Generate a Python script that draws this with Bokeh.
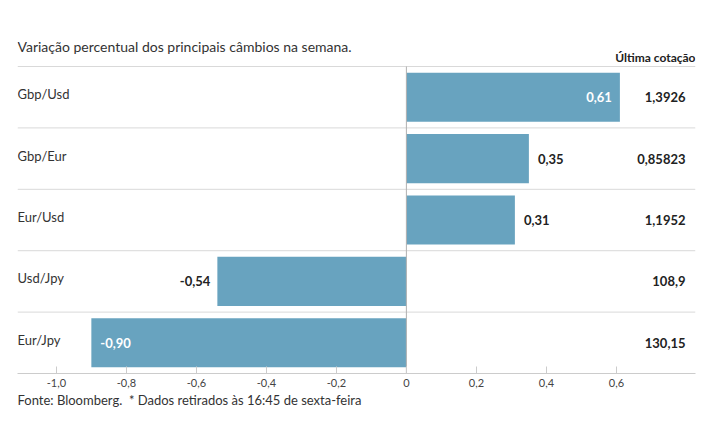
from bokeh.plotting import figure
from bokeh.models import FixedTicker, Title, ColumnDataSource, Range1d
from bokeh.core.properties import value
from bokeh.embed import file_html
from bokeh.resources import INLINE

pairs = ["Gbp/Usd", "Gbp/Eur", "Eur/Usd", "Usd/Jpy", "Eur/Jpy"]
changes = [0.61, 0.35, 0.31, -0.54, -0.90]
change_labels = ["0,61", "0,35", "0,31", "-0,54", "-0,90"]
last_quote = ["1,3926", "0,85823", "1,1952", "108,9", "130,15"]
tick_values = [-1.0, -0.8, -0.6, -0.4, -0.2, 0, 0.2, 0.4, 0.6]
tick_labels = ["-1,0", "-0,8", "-0,6", "-0,4", "-0,2", "0", "0,2", "0,4", "0,6"]

FONT = "Lato"
BAR = "#68a3bf"
X0, X1 = -1.111, 0.826
n = len(pairs)
rows = [n - 1 - i for i in range(n)]
Y0, Y1 = -0.5, n - 0.5 + 0.489

p = figure(width=707, height=437, output_backend="svg", toolbar_location=None,
           x_range=Range1d(X0, X1), y_range=Range1d(Y0, Y1),
           min_border_left=17, min_border_right=12, min_border_top=36, min_border_bottom=64)
p.outline_line_color = None
p.grid.visible = False
p.yaxis.visible = False
p.background_fill_color = "white"
p.border_fill_color = "white"

# x axis
ax = p.xaxis[0]
ax.ticker = FixedTicker(ticks=tick_values)
ax.major_label_overrides = {t: l for t, l in zip(tick_values, tick_labels)}
ax.axis_line_color = "#cccccc"
ax.major_tick_line_color = "#cccccc"
ax.major_tick_in = 7
ax.major_tick_out = 0
ax.minor_tick_line_color = None
ax.major_label_text_font = FONT
ax.major_label_text_font_size = "11px"
ax.major_label_text_color = "#444444"
ax.major_label_standoff = 5

# row separators
sep_y = [r + 0.5 for r in range(n)]
p.segment(x0=[X0] * n, x1=[X1] * n, y0=sep_y, y1=sep_y, line_color="#d9d9d9", line_width=1)

# bars
src = ColumnDataSource(dict(y=rows, v=changes, pair=pairs, lab=change_labels, q=last_quote))
p.hbar(y="y", left=0, right="v", height=0.8, source=src, fill_color=BAR, line_color=None)

# zero line
p.segment(x0=[0], x1=[0], y0=[Y0], y1=[n - 0.5], line_color="#b0b0b0", line_width=1)

# category labels
p.text(x=[X0] * n, y=rows, text=pairs, text_font=value(FONT), text_font_size="13px",
       text_color="#333333", text_baseline="middle", text_align="left", y_offset=-3)

# value labels
ins_pos = dict(x=[], y=[], t=[])
ins_neg = dict(x=[], y=[], t=[])
out_pos = dict(x=[], y=[], t=[])
out_neg = dict(x=[], y=[], t=[])
for r, v, l in zip(rows, changes, change_labels):
    inside = abs(v) >= 0.6
    d = (ins_pos if v >= 0 else ins_neg) if inside else (out_pos if v >= 0 else out_neg)
    d["x"].append(v); d["y"].append(r); d["t"].append(l)

common = dict(text_font=value(FONT), text_font_size="13px", text_font_style="bold",
              text_baseline="middle")
p.text(x=ins_pos["x"], y=ins_pos["y"], text=ins_pos["t"], text_color="white",
       text_align="right", x_offset=-8, **common)
p.text(x=ins_neg["x"], y=ins_neg["y"], text=ins_neg["t"], text_color="white",
       text_align="left", x_offset=9, **common)
p.text(x=out_pos["x"], y=out_pos["y"], text=out_pos["t"], text_color="#222222",
       text_align="left", x_offset=9, **common)
p.text(x=out_neg["x"], y=out_neg["y"], text=out_neg["t"], text_color="#222222",
       text_align="right", x_offset=-7, **common)

# last quote column
p.text(x=[X1] * n, y=rows, text=last_quote, x_offset=-10, text_align="right", text_color="#222222",
       **common)
p.text(x=[X1], y=[n - 0.5 + 0.147], text=["Última cotação"], text_align="right",
       text_color="#222222", text_font=value(FONT), text_font_size="12px", text_font_style="bold",
       text_baseline="middle")

# title
p.text(x=[X0], y=[n - 0.5 + 0.326], text=["Variação percentual dos principais câmbios na semana."],
       text_align="left", text_baseline="middle", text_color="#333333",
       text_font=value(FONT), text_font_size="14px")

# footnote
foot = Title(text="Fonte: Bloomberg.\u00a0 * Dados retirados às 16:45 de sexta-feira", align="left",
             text_font=FONT, text_font_size="13px", text_font_style="normal",
             text_color="#333333", standoff=0, offset=0)
p.add_layout(foot, "below")

open("out.html", "w").write(file_html(p, INLINE))
